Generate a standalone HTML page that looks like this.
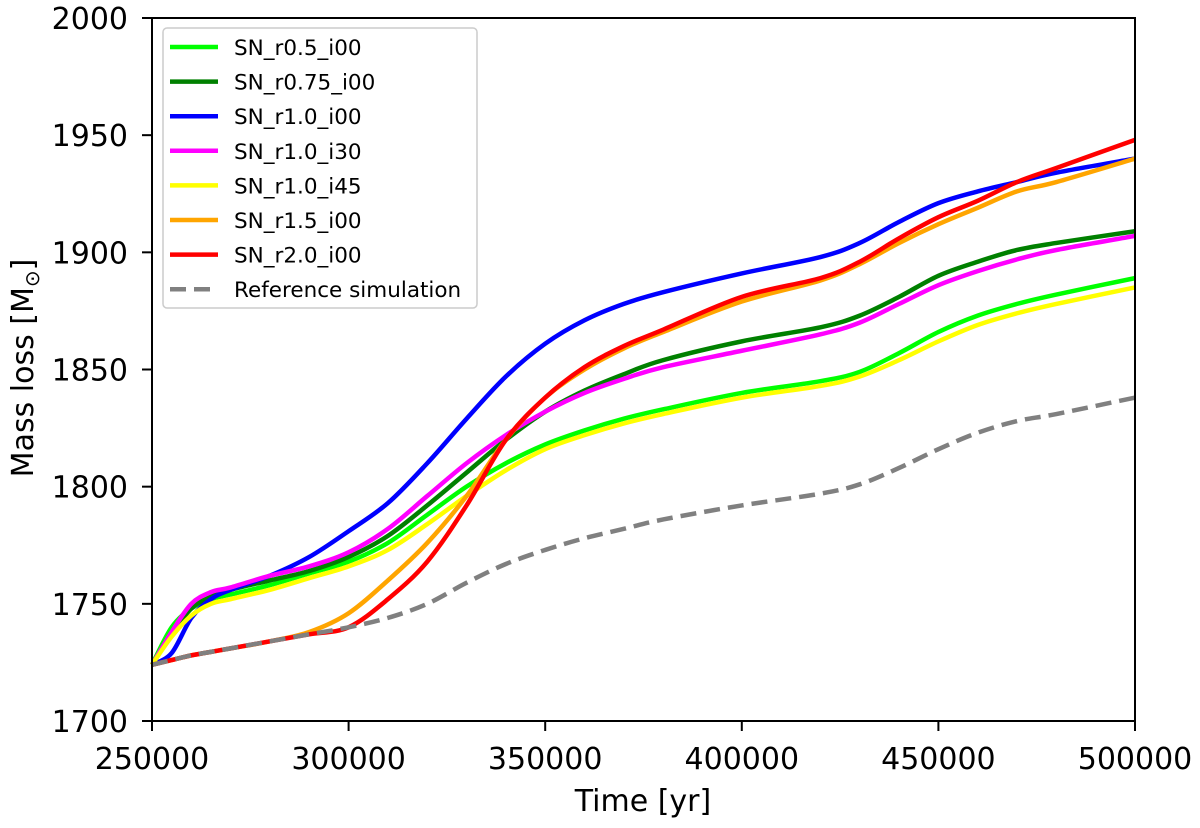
<!DOCTYPE html>
<html><head><meta charset="utf-8"><style>
body{margin:0;background:#fff;}
svg text{font-family:"DejaVu Sans","Liberation Sans",sans-serif;fill:#000;}
</style></head><body>
<svg width="1200" height="823" id="chart">
<g id="plot"></g>
<g id="axes"></g>
<g id="legend"></g>
</svg>
<script>
const times = [250,255,260,265,270,280,290,300,310,320,330,340,350,360,370,380,400,420,430,440,450,460,470,480,500];
const sLime = [1724,1740,1748,1752,1754,1758,1763,1768,1776,1788,1800,1810,1818,1824,1829,1833,1840,1845,1849,1857,1866,1873,1878,1882,1889];
const sGreen = [1724,1737,1748,1753,1756,1760,1764,1770,1779,1792,1806,1820,1832,1841,1848,1854,1862,1868,1873,1881,1890,1896,1901,1904,1909];
const sBlue = [1724,1729,1744,1752,1756,1762,1770,1781,1793,1810,1829,1847,1861,1871,1878,1883,1891,1898,1904,1913,1921,1926,1930,1934,1940];
const sMagenta = [1724,1738,1750,1755,1757,1762,1766,1772,1782,1796,1810,1822,1832,1840,1846,1851,1858,1865,1870,1878,1886,1892,1897,1901,1907];
const sYellow = [1724,1736,1745,1750,1752,1756,1761,1766,1773,1784,1796,1807,1816,1822,1827,1831,1838,1843,1847,1854,1862,1869,1874,1878,1885];
const sOrange = [1724,1726,1728,1729.5,1731,1734,1738,1746,1760,1776,1796,1820,1838,1850,1859,1866,1879,1888,1895,1904,1912,1919,1926,1930,1940];
const sRed = [1724,1726,1728,1729.5,1731,1734,1737,1740,1752,1768,1792,1820,1838,1851,1860,1867,1881,1889,1896,1906,1915,1922,1930,1936,1948];
const sRef = [1724,1726,1728,1729.5,1731,1734,1737,1740,1744,1750,1759,1767,1773,1778,1782,1786,1792,1797,1801,1808,1816,1823,1828,1831,1838];
const seriesNames = ["SN_r0.5_i00","SN_r0.75_i00","SN_r1.0_i00","SN_r1.0_i30","SN_r1.0_i45","SN_r1.5_i00","SN_r2.0_i00","Reference simulation"];
const xTicks = [250000,300000,350000,400000,450000,500000];
const yTicks = [1700,1750,1800,1850,1900,1950,2000];

const X0=152,X1=1135,Y0=721,Y1=18;
const xs = t => X0 + (t-250000)/250000*(X1-X0);
const ys = v => Y0 - (v-1700)/300*(Y0-Y1);
const NS="http://www.w3.org/2000/svg";
function mk(tag,attrs,parent){const e=document.createElementNS(NS,tag);for(const k in attrs)e.setAttribute(k,attrs[k]);parent.appendChild(e);return e;}
function pathFor(vals){
  const p=vals.map((v,i)=>[xs(times[i]*1000),ys(v)]);
  let d=`M${p[0][0]},${p[0][1]}`;
  for(let i=0;i<p.length-1;i++){
    const a=p[Math.max(0,i-1)],b=p[i],c=p[i+1],e=p[Math.min(p.length-1,i+2)];
    const c1=[b[0]+(c[0]-a[0])/6,b[1]+(c[1]-a[1])/6],c2=[c[0]-(e[0]-b[0])/6,c[1]-(e[1]-b[1])/6];
    d+=` C${c1[0]},${c1[1]} ${c2[0]},${c2[1]} ${c[0]},${c[1]}`;
  }
  return d;
}
const plot=document.getElementById('plot');
const series=[[sLime,"#00ff00","series-sn-r0.5-i00"],[sGreen,"#008000","series-sn-r0.75-i00"],[sBlue,"#0000ff","series-sn-r1.0-i00"],[sMagenta,"#ff00ff","series-sn-r1.0-i30"],[sYellow,"#ffff00","series-sn-r1.0-i45"],[sOrange,"#ffa500","series-sn-r1.5-i00"],[sRed,"#ff0000","series-sn-r2.0-i00"],[sRef,"#808080","series-reference"]];
series.forEach((s,i)=>{
  const el=mk('path',{d:pathFor(s[0]),fill:"none",stroke:s[1],"stroke-width":4.5,"stroke-linejoin":"round"},plot);
  if(i===7) el.setAttribute('stroke-dasharray','16 8');
  
  
});
const ax=document.getElementById('axes');
const frame=mk('rect',{x:X0,y:Y1,width:X1-X0,height:Y0-Y1,fill:"none",stroke:"#000","stroke-width":2},ax);


xTicks.forEach(t=>{
  mk('line',{x1:xs(t),x2:xs(t),y1:Y0,y2:Y0+10,stroke:"#000","stroke-width":2},ax);
  const tx=mk('text',{x:xs(t),y:769,"font-size":30,"text-anchor":"middle"},ax);
  tx.textContent=t;
  
  
});
yTicks.forEach(v=>{
  mk('line',{x1:X0-10,x2:X0,y1:ys(v),y2:ys(v),stroke:"#000","stroke-width":2},ax);
  const tx=mk('text',{x:128,y:ys(v)+11,"font-size":30,"text-anchor":"end"},ax);
  tx.textContent=v;
  
  
});
const xt=mk('text',{x:643,y:811,"font-size":30,"text-anchor":"middle"},ax);
xt.textContent="Time [yr]";


const yt=mk('text',{x:0,y:0,"font-size":30,"text-anchor":"middle",transform:"translate(33,368) rotate(-90)"},ax);
yt.innerHTML='Mass loss [M<tspan font-size="20" dy="6">⊙</tspan><tspan dy="-6">]</tspan>';


const lg=document.getElementById('legend');
const box=mk('rect',{x:163,y:28,width:314,height:280,rx:4,fill:"#fff","fill-opacity":0.85,stroke:"#ccc","stroke-width":1.5},lg);


seriesNames.forEach((n,i)=>{
  const y=47+i*34.6;
  const ln=mk('line',{x1:170,x2:218,y1:y,y2:y,stroke:series[i][1],"stroke-width":4.5},lg);
  if(i===7) ln.setAttribute('stroke-dasharray','16 8');
  
  
  const tx=mk('text',{x:234,y:y+8,"font-size":21.5},lg);
  tx.textContent=n;
  
  
});
</script>
</body></html>
